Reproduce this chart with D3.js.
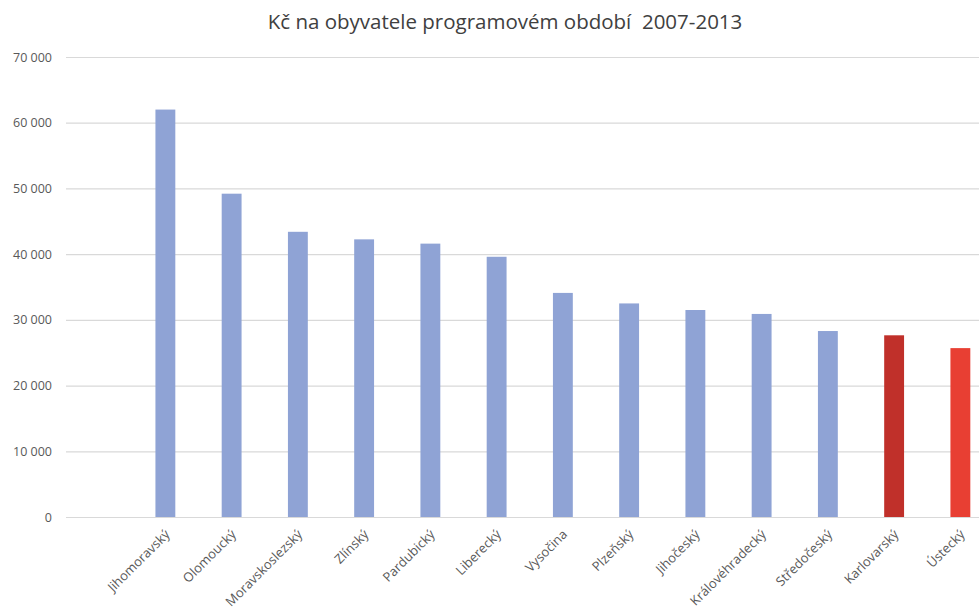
<!DOCTYPE html>
<html>
<head>
<meta charset="utf-8">
<script src="https://cdn.jsdelivr.net/npm/d3@7"></script>
<style>
  body { margin: 0; background: #fff; }
  svg { display: block; }
  svg text { font-family: "Open Sans", "Noto Sans", sans-serif; }
</style>
</head>
<body>
<svg id="chart" width="979" height="610"></svg>
<script>
const title = "Kč na obyvatele programovém období  2007-2013";
const categories = ["Jihomoravský", "Olomoucký", "Moravskoslezský", "Zlínský", "Pardubický", "Liberecký", "Vysočina", "Plzeňský", "Jihočeský", "Královéhradecký", "Středočeský", "Karlovarský", "Ústecký"];
const values = [62000, 49200, 43400, 42250, 41600, 39600, 34100, 32500, 31500, 30900, 28300, 27650, 25700];
const barColors = ["#8fa3d5", "#8fa3d5", "#8fa3d5", "#8fa3d5", "#8fa3d5", "#8fa3d5", "#8fa3d5", "#8fa3d5", "#8fa3d5", "#8fa3d5", "#8fa3d5", "#c0302a", "#e83f33"];
const yTicks = [0, 10000, 20000, 30000, 40000, 50000, 60000, 70000];

const svg = d3.select("#chart");
const plotLeft = 66, plotRight = 993.5, plotTop = 57, plotBottom = 517;
const step = (plotRight - plotLeft) / (categories.length + 1);

const x = d3.scaleBand()
  .domain(categories)
  .range([plotLeft + step, plotRight])
  .paddingInner(0.7)
  .paddingOuter(0.35);

const y = d3.scaleLinear().domain([0, 70000]).range([plotBottom, plotTop]);

const fmt = v => d3.format(",")(v).replace(/,/g, " ");

// gridlines
const yAxis = d3.axisLeft(y).tickValues(yTicks).tickFormat(fmt)
  .tickSize(-(plotRight - plotLeft)).tickPadding(14);
const ga = svg.append("g").attr("transform", `translate(${plotLeft},0)`).call(yAxis)
  .attr("font-family", null).attr("font-size", null);
ga.select(".domain").remove();
ga.selectAll(".tick line").attr("stroke", "#d9d9d9").attr("stroke-width", 1.2);
ga.selectAll(".tick text").attr("fill", "#595959").style("font-size", "12.5px");

// bars
svg.append("g").selectAll("rect").data(categories).join("rect")
  .attr("x", d => x(d))
  .attr("width", x.bandwidth())
  .attr("y", (d, i) => y(values[i]))
  .attr("height", (d, i) => y(0) - y(values[i]))
  .attr("fill", (d, i) => barColors[i]);

// x labels
const xAxis = d3.axisBottom(x).tickSize(0).tickPadding(0);
const gx = svg.append("g").attr("transform", `translate(0,${plotBottom})`).call(xAxis)
  .attr("font-family", null).attr("font-size", null);
gx.select(".domain").remove();
gx.selectAll(".tick text")
  .attr("fill", "#595959")
  .style("font-size", "13px")
  .attr("text-anchor", "end")
  .attr("dy", "0.35em")
  .attr("transform", "translate(2,15) rotate(-45)");

// title
svg.append("text")
  .attr("x", 505).attr("y", 29)
  .attr("text-anchor", "middle")
  .attr("fill", "#404040")
  .style("font-size", "20.5px")
  .style("white-space", "pre")
  .text(title);
</script>
</body>
</html>
